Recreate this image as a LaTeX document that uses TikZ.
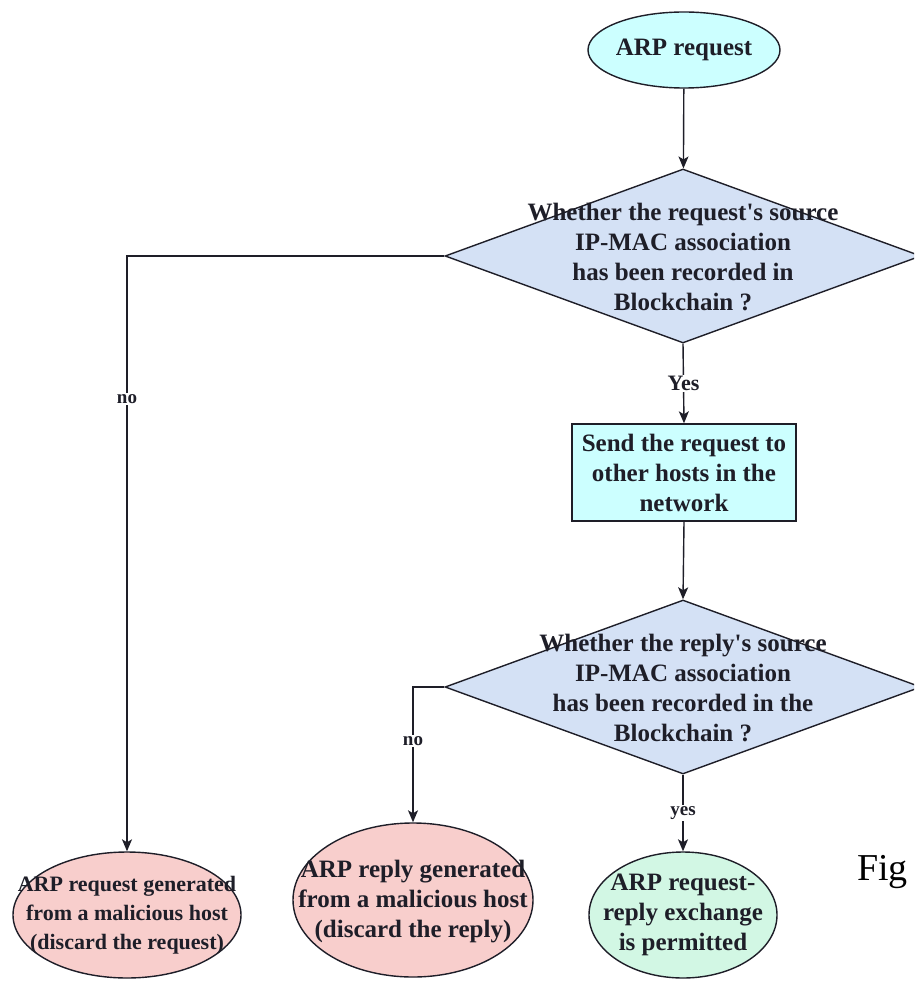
\documentclass[tikz,border=0pt]{standalone}
\usepackage{fontspec}
\setmainfont{Liberation Serif}
\usetikzlibrary{shapes.geometric,arrows.meta}

\definecolor{cyanfill}{HTML}{CCFFFF}
\definecolor{bluefill}{HTML}{D4E1F5}
\definecolor{redfill}{HTML}{F8CECC}
\definecolor{greenfill}{HTML}{D2F7E4}
\definecolor{ink}{HTML}{1E1E28}

\tikzset{
  shapeline/.style={draw=ink, line width=1.4pt, inner sep=0pt},
  oval/.style={shapeline, ellipse},
  decision/.style={shapeline, diamond, fill=bluefill},
  stepbox/.style={shapeline, rectangle, fill=cyanfill, inner sep=2pt},
  txt/.style={text=ink, align=center, font=\bfseries\fontsize{25}{30}\selectfont},
  smalltxt/.style={text=ink, align=center, font=\bfseries\fontsize{22}{29}\selectfont},
  lbl/.style={fill=white, text=ink, inner sep=1.5pt, font=\bfseries\fontsize{19}{21}\selectfont},
  yeslbl/.style={lbl, font=\bfseries\fontsize{22}{24}\selectfont},
  flow/.style={draw=ink, line width=1.4pt, -{Stealth[length=12pt,width=10pt,inset=3pt]}},
}

\begin{document}
\begin{tikzpicture}[x=1pt, y=-1pt]
  \fill[white] (0,0) rectangle (914,981);
  \path[use as bounding box, clip] (0,0) rectangle (914,981);

  % start
  \node[oval, fill=cyanfill, minimum width=192pt, minimum height=76pt,
        label={[txt]center:ARP request}] (start) at (684,50) {};

  % first decision
  \node[decision, minimum width=476pt, minimum height=174pt] (d1) at (683,256) {};
  \node[txt] (d1t) at (683,257) {Whether the request\textquotesingle s source\\IP-MAC association\\has been recorded in\\Blockchain ?};

  % forwarding step
  \node[stepbox, minimum width=224pt, minimum height=97pt, txt] (send) at (684,472.5)
       {Send the request to\\other hosts in the\\network};

  % second decision
  \node[decision, minimum width=476pt, minimum height=174pt] (d2) at (683,687) {};
  \node[txt] (d2t) at (683,688) {Whether the reply\textquotesingle s source\\IP-MAC association\\has been recorded in the\\Blockchain ?};

  % outcomes
  \node[oval, fill=redfill, minimum width=228pt, minimum height=126pt] (bad1) at (127,915) {};
  \node[smalltxt] (bad1t) at (127,915) {ARP request generated\\from a malicious host\\(discard the request)};

  \node[oval, fill=redfill, minimum width=240pt, minimum height=154pt] (bad2) at (413,900) {};
  \node[txt] (bad2t) at (413,902) {ARP reply generated\\from a malicious host\\(discard the reply)};

  \node[oval, fill=greenfill, minimum width=188pt, minimum height=126pt] (ok) at (683,915) {};
  \node[txt] (okt) at (683,915) {ARP request-\\reply exchange\\is permitted};

  % caption fragment, running off the right edge
  \node[anchor=base west, inner sep=0pt, text=black, font=\fontsize{38}{42}\selectfont] (fig) at (857,880) {Fig};

  % connectors
  \draw[flow] (start) -- (d1);
  \draw[flow] (d1.west) -| node[lbl, pos=0.62] {no} (bad1.north);
  \draw[flow] (d1.south) -- node[yeslbl] {Yes} (send.north);
  \draw[flow] (send.south) -- (d2.north);
  \draw[flow] (d2.west) -| node[lbl, pos=0.7] {no} (bad2.north);
  \draw[flow] (d2.south) -- node[lbl] {yes} (ok.north);
\end{tikzpicture}
\end{document}
